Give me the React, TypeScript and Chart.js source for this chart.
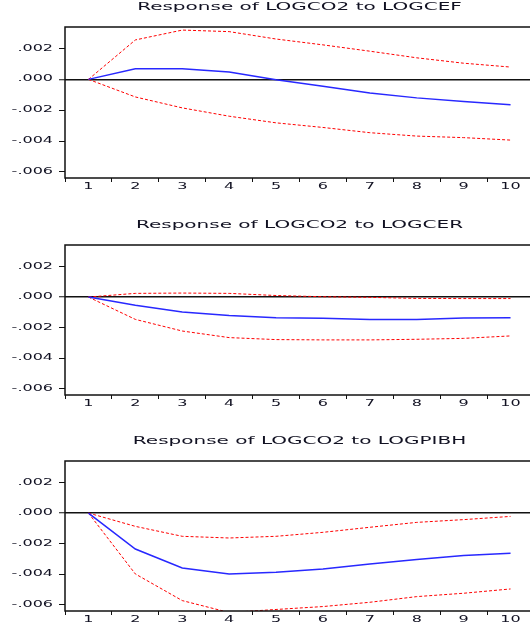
import React, { useEffect, useRef } from 'react';
import { Chart, registerables } from 'chart.js';

Chart.register(...registerables);

const PERIODS = ['1', '2', '3', '4', '5', '6', '7', '8', '9', '10'];
const Y_TICKS = [-0.006, -0.004, -0.002, 0, 0.002];
const Y_TICK_LABELS = ['-.006', '-.004', '-.002', '.000', '.002'];

const TITLES = [
  'Response of LOGCO2 to LOGCEF',
  'Response of LOGCO2 to LOGCER',
  'Response of LOGCO2 to LOGPIBH',
];

const CEF_RESPONSE = [0, 0.00069, 0.00069, 0.00048, -0.00003, -0.00045, -0.00089, -0.0012, -0.00143, -0.00164];
const CEF_UPPER = [0, 0.00256, 0.0032, 0.0031, 0.00262, 0.00224, 0.00183, 0.0014, 0.00105, 0.0008];
const CEF_LOWER = [0, -0.00114, -0.00185, -0.00239, -0.00282, -0.00312, -0.00346, -0.00368, -0.00378, -0.00394];

const CER_RESPONSE = [0, -0.00054, -0.00098, -0.0012, -0.00135, -0.00139, -0.00146, -0.00146, -0.00137, -0.00135];
const CER_UPPER = [0, 0.00024, 0.00026, 0.00024, 0.0001, 0.00002, -0.00002, -0.00009, -0.0001, -0.0001];
const CER_LOWER = [0, -0.00146, -0.00222, -0.00265, -0.00278, -0.0028, -0.0028, -0.00276, -0.0027, -0.00254];

const PIBH_RESPONSE = [0, -0.00235, -0.00359, -0.00398, -0.00387, -0.00365, -0.00333, -0.00304, -0.00278, -0.00263];
const PIBH_UPPER = [0, -0.00087, -0.00152, -0.00163, -0.00152, -0.00126, -0.00093, -0.00061, -0.00043, -0.00022];
const PIBH_LOWER = [0, -0.00398, -0.00572, -0.0065, -0.0063, -0.00611, -0.00583, -0.00546, -0.00524, -0.00496];

const Y_MIN = -0.0064;
const Y_MAX = 0.0034;

const FONT = 'DejaVu Sans';
const TEXT = '#111122';
const TEXT_STRETCH = 2;

// The reference graph was stretched horizontally; stretch the text the same way.
function stretchText(ctx: any) {
  if (ctx.__stretched) return;
  const orig = ctx.fillText.bind(ctx);
  ctx.fillText = (text: string, x: number, y: number, maxWidth?: number) => {
    ctx.save();
    ctx.translate(x, y);
    ctx.scale(TEXT_STRETCH, 1);
    if (maxWidth !== undefined && maxWidth !== null) orig(text, 0, 0, maxWidth / TEXT_STRETCH);
    else orig(text, 0, 0);
    ctx.restore();
  };
  ctx.__stretched = true;
}

const framePlugin = {
  id: 'frame',
  afterDraw(chart: any) {
    const { ctx, chartArea } = chart;
    ctx.save();
    ctx.strokeStyle = '#111';
    ctx.lineWidth = 1.5;
    ctx.strokeRect(chartArea.left, chartArea.top, chartArea.right - chartArea.left, chartArea.bottom - chartArea.top);
    ctx.restore();
  },
};

type PanelProps = {
  title: string;
  response: number[];
  upper: number[];
  lower: number[];
  top: number;
  height: number;
};

function Panel({ title, response, upper, lower, top, height }: PanelProps) {
  const ref = useRef<HTMLCanvasElement>(null);
  useEffect(() => {
    if (!ref.current) return;
    const ctx = ref.current.getContext('2d');
    stretchText(ctx);
    const chart = new Chart(ref.current, {
      type: 'line',
      data: {
        labels: PERIODS,
        datasets: [
          { data: response, borderColor: 'rgb(40,40,255)', borderWidth: 1.5, pointRadius: 0, tension: 0 },
          { data: upper, borderColor: '#ff0000', borderWidth: 1, borderDash: [3, 2], pointRadius: 0, tension: 0 },
          { data: lower, borderColor: '#ff0000', borderWidth: 1, borderDash: [3, 2], pointRadius: 0, tension: 0 },
        ],
      },
      options: {
        animation: false,
        responsive: false,
        layout: { padding: { left: 0, right: 11, top: 0, bottom: 0 } },
        plugins: {
          legend: { display: false },
          tooltip: { enabled: false },
          title: {
            display: true,
            text: title,
            fullSize: false,
            color: TEXT,
            font: { family: FONT, size: 10, weight: 'normal' },
            padding: { top: 1, bottom: 14 },
          },
        },
        scales: {
          x: {
            type: 'category',
            offset: true,
            border: { display: false },
            grid: { offset: true, drawOnChartArea: false, drawTicks: true, tickLength: 4, color: '#111', lineWidth: 1 },
            ticks: { color: TEXT, font: { family: FONT, size: 8 }, padding: 0, maxRotation: 0, autoSkip: false },
            afterFit(scale: any) {
              scale.height = 17;
            },
          },
          y: {
            type: 'linear',
            min: Y_MIN,
            max: Y_MAX,
            border: { display: false },
            afterBuildTicks(scale: any) {
              scale.ticks = Y_TICKS.map((v) => ({ value: v }));
            },
            grid: {
              drawOnChartArea: true,
              drawTicks: true,
              tickLength: 6,
              color: (c: any) => (c.tick && c.tick.value === 0 ? '#111' : 'rgba(0,0,0,0)'),
              lineWidth: (c: any) => (c.tick && c.tick.value === 0 ? 1.5 : 1),
              tickColor: '#111',
              tickWidth: 1,
            },
            ticks: {
              color: TEXT,
              font: { family: FONT, size: 8 },
              padding: 6,
              callback: (v: any) => {
                const i = Y_TICKS.findIndex((t) => Math.abs(t - Number(v)) < 1e-9);
                return i >= 0 ? Y_TICK_LABELS[i] : '';
              },
            },
            afterFit(scale: any) {
              scale.width = 65;
            },
          },
        },
      },
      plugins: [framePlugin],
    } as any);
    return () => chart.destroy();
  }, [title, response, upper, lower]);

  return (
    <canvas
      ref={ref}
      width={545}
      height={height}
      style={{ position: 'absolute', left: 0, top, width: 545, height, display: 'block' }}
    />
  );
}

export default function App() {
  const panels = [
    { title: TITLES[0], response: CEF_RESPONSE, upper: CEF_UPPER, lower: CEF_LOWER, top: 0, height: 195 },
    { title: TITLES[1], response: CER_RESPONSE, upper: CER_UPPER, lower: CER_LOWER, top: 218, height: 194 },
    { title: TITLES[2], response: PIBH_RESPONSE, upper: PIBH_UPPER, lower: PIBH_LOWER, top: 434, height: 194 },
  ];
  return (
    <div style={{ position: 'fixed', left: 0, top: 0, width: 530, height: 627, overflow: 'hidden', background: '#fff' }}>
      {panels.map((p) => (
        <Panel key={p.title} {...p} />
      ))}
    </div>
  );
}
